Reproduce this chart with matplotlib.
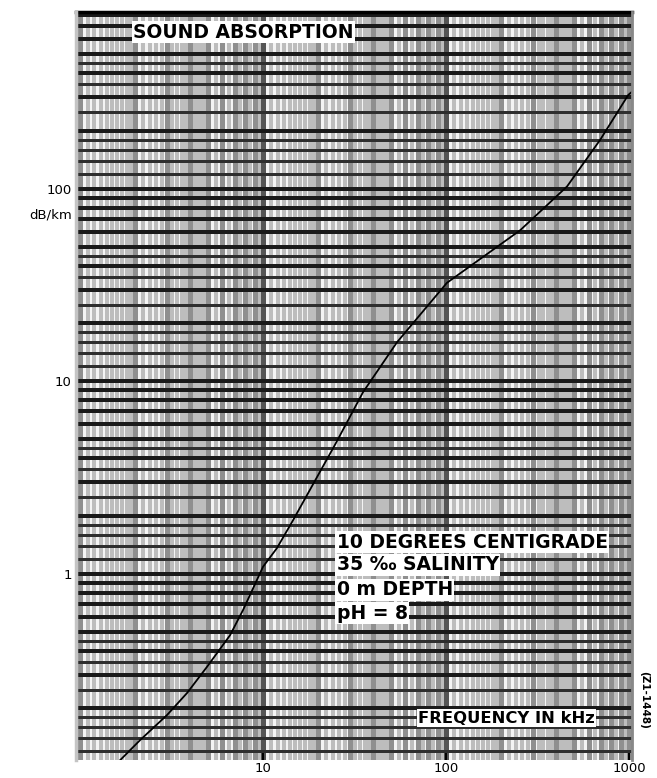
import matplotlib
matplotlib.use("Agg")
import matplotlib.pyplot as plt
import numpy as np

# values (frequency in kHz, absorption in dB/km)
freq_khz = [1.66, 2.13, 2.99, 3.85, 4.94, 6.6, 7.78, 10, 11.9, 14.4,
            24.7, 35.2, 54, 101, 254, 458, 695, 990, 1030]
absorption_db_km = [0.108, 0.137, 0.185, 0.241, 0.329, 0.48, 0.65, 1.09, 1.36, 1.86,
                    4.68, 8.8, 16, 32.5, 61, 103, 180, 308, 318]

x_ticks = [10, 100, 1000]
x_tick_labels = ["10", "100", "1000"]
y_ticks = [1, 10, 100]
y_tick_labels = ["1", "10", "100"]
conditions = ["10 DEGREES CENTIGRADE", "35 \u2030 SALINITY", "0 m DEPTH", "pH = 8"]


def paper_rulings(lo_exp, hi_exp, steps):
    # log graph paper: rulings inside each decade, split into integer / fractional
    minor, major = [], []
    for e in range(lo_exp, hi_exp):
        for s in steps:
            v = round(s, 2) * 10.0 ** e
            if abs(s - round(s)) < 1e-9:
                major.append(v)
            else:
                minor.append(v)
    return minor, major


v_steps = np.concatenate([np.arange(1, 2, 0.1), np.arange(2, 5, 0.2), np.arange(5, 10, 0.5)])
h_steps = np.concatenate([np.arange(1, 2, 0.2), np.arange(2, 5, 0.5), np.arange(5, 10, 1.0)])

fig = plt.figure(figsize=(6.57, 7.78), dpi=100)
ax = fig.add_axes([76 / 657, 18 / 778, 556 / 657, 748 / 778])
ax.set_xscale("log")
ax.set_yscale("log")
ax.set_xlim(0.951, 1037)
ax.set_ylim(0.108, 830)
ax.set_facecolor("#f4f4f4")

xmin, xmaj = paper_rulings(-1, 4, v_steps)
ymin_, ymaj = paper_rulings(-1, 3, h_steps)

xt = ax.get_xaxis_transform()
yt = ax.get_yaxis_transform()
ax.vlines(xmin, 0, 1, transform=xt, colors="#bdbdbd", linewidth=1.5,
          antialiased=False, zorder=1)
ax.vlines(xmaj, 0, 1, transform=xt, colors="#8f8f8f", linewidth=2.2,
          antialiased=False, zorder=1)
ax.vlines(x_ticks[:-1], 0, 1, transform=xt, colors="#555555", linewidth=2.5,
          antialiased=False, zorder=1)
ax.hlines(ymin_, 0, 1, transform=yt, colors="#2e2e2e", linewidth=2.0,
          antialiased=False, zorder=2)
ax.hlines(ymaj, 0, 1, transform=yt, colors="#1a1a1a", linewidth=2.6,
          antialiased=False, zorder=2)

ax.plot(freq_khz, absorption_db_km, color="black", linewidth=1.3, zorder=3)

ax.set_xticks(x_ticks)
ax.set_xticklabels(x_tick_labels)
ax.set_yticks(y_ticks)
ax.set_yticklabels(y_tick_labels)
ax.minorticks_off()
ax.tick_params(direction="in", length=7, width=1.5, color="black",
               labelsize=9.5, pad=3)
ax.tick_params(axis="x", pad=1.5)

ax.text(-0.008, 73, "dB/km", transform=yt, ha="right", va="center", fontsize=9.5)

for side in ("top", "right", "left", "bottom"):
    ax.spines[side].set_visible(False)
ax.axhline(830, color="black", linewidth=2.5, zorder=4, clip_on=False)
ax.axvline(1037, color="#888888", linewidth=2, zorder=4, clip_on=False)
ax.axvline(0.951, color="#c4c4c4", linewidth=2.5, zorder=4, clip_on=False)

box = dict(facecolor="white", edgecolor="none", pad=1.0)
ax.text(0.103, 0.973, "SOUND ABSORPTION", transform=ax.transAxes, ha="left",
        va="center", fontsize=13.5, fontweight="bold", bbox=box, zorder=5)

cond_y = [0.2914, 0.2607, 0.2273, 0.1965]
for txt, yy in zip(conditions, cond_y):
    ax.text(0.469, yy, txt, transform=ax.transAxes, ha="left", va="center",
            fontsize=13.5, fontweight="bold", bbox=box, zorder=5)

ax.text(0.615, 0.0561, "FREQUENCY IN kHz", transform=ax.transAxes, ha="left",
        va="center", fontsize=11.8, fontweight="bold", bbox=box, zorder=5)

fig.text(644 / 657, (778 - 700) / 778, "(Z1-1448)", rotation=270, ha="center",
         va="center", fontsize=7.5, fontweight="bold")

fig.savefig("out.png", dpi=100)
